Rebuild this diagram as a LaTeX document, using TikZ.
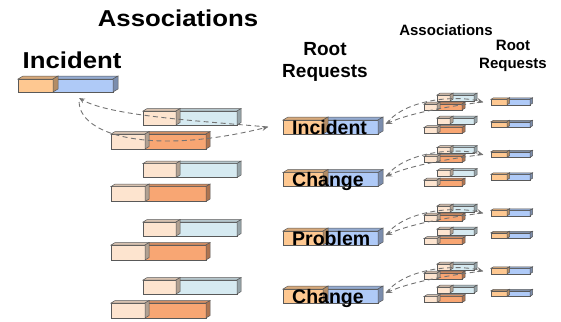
\documentclass[tikz,border=0pt]{standalone}
\usepackage{fontspec}
\setmainfont{Liberation Sans}
\usetikzlibrary{calc,arrows.meta}
\definecolor{peach}{HTML}{FDE4CF}
\definecolor{paleblue}{HTML}{D6EAF1}
\definecolor{deeporange}{HTML}{F8A673}
\definecolor{rootorange}{HTML}{FEC891}
\definecolor{rootblue}{HTML}{AFCAF7}
% one block of a request bar: front face, then top and right faces
\newcommand{\reqcube}[7]{% name, west x, centre y, width, height, depth, colour
  \node[cubefront, fill=#7, minimum width=#4, minimum height=#5, anchor=west] (#1) at (#2,#3) {};
  \filldraw[cubeside, fill=#7!85!black] (#1.north west) -- ++(#6,-0.6*#6) -- ($ (#1.north east) + (#6,-0.6*#6) $) -- (#1.north east) -- cycle;
  \filldraw[cubeside, fill=#7!70!black] (#1.north east) -- ++(#6,-0.6*#6) -- ($ (#1.south east) + (#6,-0.6*#6) $) -- (#1.south east) -- cycle;
}
% a whole bar: right block first, left block over it
\newcommand{\reqbar}[9]{% name, west x, centre y, left width, right width, height, depth, left colour, right colour
  \reqcube{#1-r}{#2+#4}{#3}{#5}{#6}{#7}{#9}
  \reqcube{#1-l}{#2}{#3}{#4}{#6}{#7}{#8}
}
\def\drawlink{\draw[link]}

\begin{document}
\begin{tikzpicture}[x=1pt,y=-1pt,
  cubefront/.style={draw=black!65, line width=0.5pt, inner sep=0, outer sep=0},
  cubeside/.style={draw=black!65, line width=0.5pt},
  link/.style={draw=black!55, line width=0.9pt, dash pattern=on 5pt off 3.5pt, -{Stealth[length=6pt,width=5pt,inset=2pt]}},
  bigtitle/.style={font=\fontsize{23}{23}\selectfont\bfseries, inner sep=0, xscale=1.12},
  midtitle/.style={font=\fontsize{19}{22.5}\selectfont\bfseries, align=center, inner sep=0},
  smalltitle/.style={font=\fontsize{15}{18}\selectfont\bfseries, align=center, inner sep=0},
  barlabel/.style={font=\fontsize{19.5}{19.5}\selectfont\bfseries, inner sep=0}]
\useasboundingbox (0,0) rectangle (561,321);

% ---------- headings
\node[bigtitle, anchor=base] (assoc) at (178,27) {Associations};
\node[bigtitle, anchor=base] (incident) at (72,68) {Incident};
\node[midtitle, anchor=north] (roots) at (325,42) {Root\\Requests};
\node[smalltitle, anchor=base] (sassoc) at (446,35) {Associations};
\node[smalltitle, anchor=north] (sroots) at (513,40) {Root\\Requests};

% ---------- the incident on the far left
\reqbar{inc}{18}{85.5}{35}{60}{13}{5}{rootorange}{rootblue}
\coordinate (incport) at ($ (inc-r.south) + (-4,6) $);

% ---------- one row per root request
\foreach \c/\word [count=\i] in {127/Incident,179.5/Change,238/Problem,296/Change}{
  % associations of the row
  \reqbar{ta\i}{143}{\c-9}{33}{61}{14}{4}{peach}{paleblue}
  \reqbar{ba\i}{111}{\c+14.5}{34}{61}{15}{4}{peach}{deeporange}
  % the root request with its name
  \reqbar{root\i}{283}{\c}{40}{55}{14}{5}{rootorange}{rootblue}
  \node[barlabel, anchor=base west] (word\i) at (292,\c+7) {\word};
  % the same again, small, on the right
  \reqbar{sta\i}{437}{\c-29}{13}{24}{6}{3}{peach}{paleblue}
  \reqbar{sba\i}{424}{\c-20}{13}{25}{6}{3}{peach}{deeporange}
  \reqbar{stb\i}{437}{\c-6}{13}{24}{6}{3}{peach}{paleblue}
  \reqbar{sbb\i}{424}{\c+3.5}{13}{25}{6}{3}{peach}{deeporange}
  \reqbar{sra\i}{491}{\c-25}{16}{23}{5.5}{2.5}{rootorange}{rootblue}
  \reqbar{srb\i}{491}{\c-2.5}{16}{23}{5.5}{2.5}{rootorange}{rootblue}
  \coordinate (out\i) at ($ (root\i-r.east) + (8,-3) $);
  \coordinate (in\i) at ($ (sra\i-l.west) + (-8,0) $);
  \drawlink (out\i) .. controls (405,\c-28) and (455,\c-32) .. (in\i);
  \drawlink (in\i) .. controls (450,\c-21) and (410,\c-14) .. (out\i);
}

% ---------- the loop between the incident and its root request
\coordinate (rootport) at ($ (root1-l.west) + (-15,0) $);
\drawlink (rootport) .. controls (200,121) and (110,116) .. (incport);
\drawlink[shorten <=4pt] (incport) .. controls (80,135) and (150,156) .. (rootport);
\end{tikzpicture}
\end{document}
